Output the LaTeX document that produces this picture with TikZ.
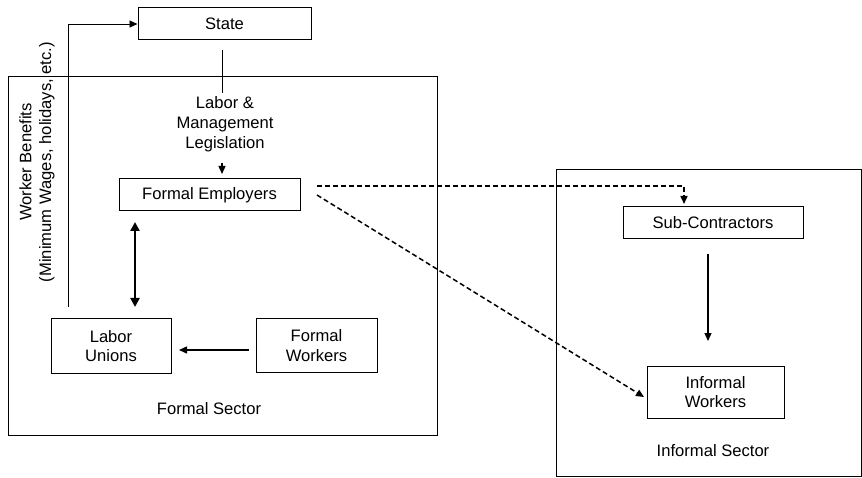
\documentclass[tikz,border=0pt]{standalone}
\usepackage{fontspec}
\setmainfont{Liberation Sans}
\usetikzlibrary{arrows.meta}
\begin{document}
\begin{tikzpicture}[x=1pt,y=-1pt,
  box/.style={draw,line width=1pt,inner sep=0pt,align=center,font=\fontsize{16.6}{19.8}\selectfont},
  lbl/.style={inner sep=0pt,align=center,font=\fontsize{16.6}{19.8}\selectfont},
  conn/.style={line width=1.3pt,-{Triangle[length=8pt,width=7pt]}},
  thin/.style={line width=0.9pt},
  thinarrow/.style={line width=0.9pt,-{Triangle[length=8pt,width=7pt]}},
  dsh/.style={line width=1.5pt,dash pattern=on 5pt off 3pt,-{Triangle[length=8pt,width=7pt]}}]
\useasboundingbox (0,0) rectangle (862,478);
% sector boxes
\node[box,minimum width=429pt,minimum height=358pt] (formal) at (222.5,256) {};
\node[box,minimum width=305pt,minimum height=307pt] (informal) at (708.5,323) {};
% nodes
\node[box,minimum width=173pt,minimum height=32pt] (state) at (224.5,24) {State};
\node[box,minimum width=181pt,minimum height=32pt] (FE) at (209.5,195) {Formal Employers};
\node[box,minimum width=120pt,minimum height=54pt] (LU) at (111,346) {Labor\\Unions};
\node[box,minimum width=121pt,minimum height=53pt] (FW) at (316.5,345.5) {Formal\\Workers};
\node[box,minimum width=180pt,minimum height=32pt] (SC) at (713,223) {Sub-Contractors};
\node[box,minimum width=137pt,minimum height=52pt] (IW) at (715.5,392) {Informal\\Workers};
\node[lbl] (legis) at (225,124) {Labor \&\\Management\\Legislation};
\node[lbl,rotate=90] (wbtext) at (37,162) {Worker Benefits\\(Minimum Wages, holidays, etc.)};
\node[lbl] (fs) at (209,409) {Formal Sector};
\node[lbl] (is) at (713,451) {Informal Sector};
% coordinates
\coordinate (s1) at (222,50);
\coordinate (s2) at (222,93);
\coordinate (l1) at (222,163);
\coordinate (l2) at (222,174);
\coordinate (wb) at (68,307);
\coordinate (da1) at (135,222);
\coordinate (da2) at (135,307);
\coordinate (fw1) at (249,350);
\coordinate (lu1) at (179,350);
\coordinate (sc1) at (708,254);
\coordinate (iw1) at (708,341);
\coordinate (d1) at (317,186);
\coordinate (d2) at (684,204);
\coordinate (d3) at (317,195);
\coordinate (d4) at (644,397);
% connectors
\draw[thin] (s1) -- (s2);
\draw[conn] (l1) -- (l2);
\draw[thinarrow] (wb) |- (state.west);
\draw[line width=2.6pt,{Triangle[length=9pt,width=9pt]}-{Triangle[length=9pt,width=9pt]}] (da1) -- (da2);
\draw[conn] (fw1) -- (lu1);
\draw[conn] (sc1) -- (iw1);
\draw[dsh] (d1) -| (d2);
\draw[dsh] (d3) -- (d4);
\end{tikzpicture}
\end{document}
